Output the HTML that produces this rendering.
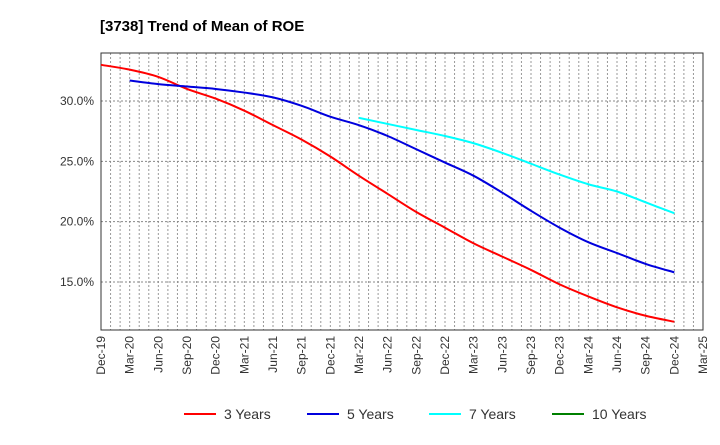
<!DOCTYPE html>
<html><head><meta charset="utf-8"><style>
body{margin:0;background:#fff;font-family:"Liberation Sans",Arial,sans-serif;}
svg text{font-family:"Liberation Sans",Arial,sans-serif;}
</style></head><body>
<svg id="chart" width="720" height="440" xmlns="http://www.w3.org/2000/svg">
<text x="100" y="31" font-size="15" font-weight="bold" fill="#000">[3738]  Trend of Mean of ROE</text>
<g id="grid"></g><g id="axes"></g><g id="series"></g><g id="legend"></g>
</svg>
<script>
const xLabels=["Dec-19","Mar-20","Jun-20","Sep-20","Dec-20","Mar-21","Jun-21","Sep-21","Dec-21","Mar-22","Jun-22","Sep-22","Dec-22","Mar-23","Jun-23","Sep-23","Dec-23","Mar-24","Jun-24","Sep-24","Dec-24","Mar-25"];
const yTicks=[15,20,25,30];
const seriesNames=["3 Years","5 Years","7 Years","10 Years"];
const seriesColors=["#ff0000","#0000dd","#00ffff","#008000"];
const s3=[33.0,32.6,32.0,31.0,30.2,29.2,28.0,26.8,25.4,23.8,22.3,20.8,19.5,18.2,17.1,16.0,14.8,13.8,12.9,12.2,11.7];
const s5=[null,31.7,31.4,31.2,31.0,30.7,30.3,29.6,28.7,28.0,27.1,26.0,24.9,23.8,22.4,20.9,19.5,18.3,17.4,16.5,15.8];
const s7=[null,null,null,null,null,null,null,null,null,28.6,28.1,27.6,27.1,26.5,25.7,24.8,23.9,23.1,22.5,21.6,20.7];
const s10=[];
const L=101,R=703,T=53,B=330,yMin=11.02,yMax=33.98;
const X=i=>L+(R-L)*i/(xLabels.length-1);
const Y=v=>B-(v-yMin)/(yMax-yMin)*(B-T);
const NS="http://www.w3.org/2000/svg";
function mk(tag,attrs,parent,txt){const e=document.createElementNS(NS,tag);for(const k in attrs)e.setAttribute(k,attrs[k]);if(txt!==undefined)e.textContent=txt;parent.appendChild(e);return e;}
const grid=document.getElementById('grid'),axes=document.getElementById('axes'),ser=document.getElementById('series'),leg=document.getElementById('legend');
const months=(xLabels.length-1)*3;
for(let m=1;m<months;m++){const x=L+(R-L)*m/months;
const ln=mk('line',{x1:x,x2:x,y1:T,y2:B,stroke:'#999','stroke-width':1,'stroke-dasharray':'2,2'},grid);

}
yTicks.forEach(v=>{const y=Y(v);
const ln=mk('line',{x1:L,x2:R,y1:y,y2:y,stroke:'#888','stroke-width':1,'stroke-dasharray':'2,2'},grid);


const t=mk('text',{x:L-7,y:y+4,'font-size':12,'text-anchor':'end',fill:'#333'},axes,v.toFixed(1)+'%');

});
const fr=mk('rect',{x:L,y:T,width:R-L,height:B-T,fill:'none',stroke:'#333','stroke-width':1},axes);


xLabels.forEach((lab,i)=>{const x=X(i);
const t=mk('text',{x:x+4,y:B+6,'font-size':12,'text-anchor':'end',fill:'#333',transform:`rotate(-90 ${x+4} ${B+6})`},axes,lab);

});
function path(data){const p=[];data.forEach((v,i)=>{if(v!=null)p.push([X(i),Y(v)]);});if(p.length<2)return '';
let d=`M${p[0][0]},${p[0][1]}`;for(let i=0;i<p.length-1;i++){const p0=p[i-1]||p[i],p1=p[i],p2=p[i+1],p3=p[i+2]||p2;
d+=` C${p1[0]+(p2[0]-p0[0])/6},${p1[1]+(p2[1]-p0[1])/6} ${p2[0]-(p3[0]-p1[0])/6},${p2[1]-(p3[1]-p1[1])/6} ${p2[0]},${p2[1]}`;}return d;}
[s3,s5,s7,s10].forEach((s,k)=>{const d=path(s);if(!d)return;
const pe=mk('path',{d,fill:'none',stroke:seriesColors[k],'stroke-width':2},ser);

});
const lx=[184,307,429,552];
seriesNames.forEach((n,k)=>{
const g=mk('g',{},leg);


mk('line',{x1:lx[k],x2:lx[k]+32,y1:414,y2:414,stroke:seriesColors[k],'stroke-width':2},g);
mk('text',{x:lx[k]+40,y:419,'font-size':14,fill:'#333'},g,n);});
</script>
</body></html>
